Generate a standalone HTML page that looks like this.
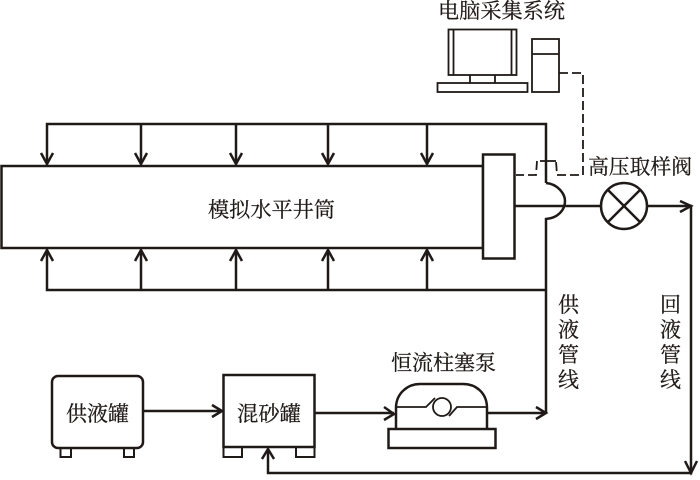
<!DOCTYPE html>
<html><head><meta charset="utf-8"><style>
html,body{margin:0;padding:0;background:#fff}
svg{display:block}
text{font-family:"Liberation Serif","Noto Serif CJK SC",serif;font-size:21px;fill:#1f1a17;stroke:#1f1a17;stroke-width:.25px}
</style></head><body>
<svg width="700" height="480" viewBox="0 0 700 480" xmlns="http://www.w3.org/2000/svg">
<g fill="none" stroke="#1f1a17" stroke-width="2.500">
<!-- main vessel -->
<rect x="1.500" y="166" width="481.500" height="82"/>
<rect x="483" y="154.500" width="31.500" height="104" fill="#fff"/>
<!-- top manifold -->
<path d="M47 164V124H546V183"/>
<path d="M141 124V164M236 124V164M328 124V164M427 124V164"/>
<path d="M41 153L47 164L53 153M135 153L141 164L147 153M230 153L236 164L242 153M322 153L328 164L334 153M421 153L427 164L433 153"/>
<!-- bottom manifold -->
<path d="M47 250V290H546M141 250V290M236 250V290M328 250V290M427 250V290"/>
<path d="M41 261L47 250L53 261M135 261L141 250L147 261M230 261L236 250L242 261M322 261L328 250L334 261M421 261L427 250L433 261"/>
<!-- supply line with hop -->
<path d="M546 183C558 184 565 194 565 201C565 210 558 218 546 219V413"/>
<!-- outlet line -->
<path d="M514.500 206H601"/>
<circle cx="624" cy="206" r="23"/>
<path d="M608 190L640 222M640 190L608 222"/>
<path d="M647 206H691V473H268V449"/>
<path d="M680 201L691 206L680 212M685 461L691 473L697 461M262 459L268 449L274 459"/>
<!-- tanks -->
<rect x="52" y="376" width="91" height="72" rx="6"/>
<rect x="60.500" y="448" width="10.500" height="9" stroke-width="2"/>
<rect x="124" y="448" width="10" height="9" stroke-width="2"/>
<path d="M143 411H222M212 405L222 411L212 417"/>
<rect x="223.500" y="375" width="91" height="72"/>
<path d="M223.500 447V457H242V447M296 447V457H314.500V447" stroke-width="2"/>
<path d="M315 413H394M384 407L394 414L384 420"/>
<!-- pump -->
<path d="M396 429V408C396 393 408 384 420 384H463C476 384 487 393 487 408V429"/>
<rect x="388.500" y="429" width="107" height="19"/>
<path d="M487 413H546M536 407L546 413L536 419"/>
<g stroke-width="1.800">
<path d="M396 407H426L435 398M449 416L457 407H487"/>
<circle cx="442" cy="407" r="9"/>
</g>
<!-- computer -->
<g stroke-width="1.800">
<rect x="448.500" y="29.500" width="68" height="45.500"/>
<path d="M453.500 29.500V75M511.500 29.500V75M470 75V83M495 75V83"/>
<rect x="437.500" y="83" width="90" height="9"/>
<rect x="532" y="39" width="27" height="53"/>
<path d="M532 54H559"/>
<path d="M559 73H583V175H557L556 161M537 161L536 175H516" stroke-dasharray="9 4"/>
<path d="M540 161H556"/>
</g>
</g>
<text x="438" y="18" textLength="127" lengthAdjust="spacingAndGlyphs">电脑采集系统</text>
<text x="588" y="174" textLength="104" lengthAdjust="spacingAndGlyphs">高压取样阀</text>
<text x="208" y="217" textLength="127" lengthAdjust="spacingAndGlyphs">模拟水平井筒</text>
<text x="66" y="421" textLength="63" lengthAdjust="spacingAndGlyphs">供液罐</text>
<text x="237" y="421" textLength="64" lengthAdjust="spacingAndGlyphs">混砂罐</text>
<text x="391" y="370" textLength="105" lengthAdjust="spacingAndGlyphs">恒流柱塞泵</text>
<text x="558" y="312">供</text><text x="558" y="337">液</text><text x="558" y="362">管</text><text x="558" y="387">线</text>
<text x="660" y="312">回</text><text x="660" y="337">液</text><text x="660" y="362">管</text><text x="660" y="387">线</text>
</svg>
</body></html>
